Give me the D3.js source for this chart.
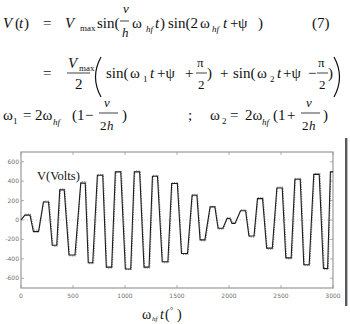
<!DOCTYPE html>
<html>
<head>
<meta charset="utf-8">
<script src="https://cdn.jsdelivr.net/npm/d3@7"></script>
<style>
body { margin: 0; background: #fff; }
svg text { font-family: "Liberation Serif", "Times New Roman", serif; fill: #111; }
.tk { font-family: "DejaVu Sans", sans-serif; font-size: 6px; fill: #707070; }
</style>
</head>
<body>
<svg id="fig" width="350" height="324"></svg>
<script>
// half-cycle centres (deg) and their peak voltage
var solidAngles = [62, 144, 240, 322, 394, 490, 596, 668, 760, 846, 933, 1029, 1115, 1207, 1288, 1385, 1476, 1572, 1668, 1745, 1841, 1918, 1995, 2043, 2135, 2216, 2298, 2389, 2486, 2572, 2659, 2745, 2841, 2928, 2995];
var solidPeaks = [50, -120, 185, -260, 310, -360, 380, -440, 460, -485, 495, -505, 495, -485, 450, -430, 375, -345, 255, -205, 135, -85, 15, -35, 95, -165, 220, -290, 330, -390, 420, -460, 470, -500, 495];
// the dotted (measured) trace
var dotAngles = [68, 150, 246, 330, 400, 498, 600, 676, 766, 852, 940, 1036, 1120, 1214, 1294, 1392, 1482, 1578, 1674, 1752, 1846, 1924, 2000, 2050, 2140, 2222, 2304, 2396, 2492, 2580, 2666, 2752, 2848, 2936, 2998];
var dotPeaks = [60, -105, 195, -270, 320, -370, 395, -450, 470, -495, 500, -510, 505, -495, 460, -440, 385, -355, 265, -215, 140, -95, 25, -30, 105, -175, 230, -300, 340, -400, 430, -470, 480, -510, 500];
var xTicks = [0, 500, 1000, 1500, 2000, 2500, 3000];
var yTicks = [600, 400, 200, 0, -200, -400, -600];

var svg = d3.select('#fig');

var x = d3.scaleLinear().domain([0, 3000]).range([21, 333]);
var y = d3.scaleLinear().domain([-700, 700]).range([288, 152]);

// turn the half-cycle list into a flat-topped trace
function trace(angles, peaks) {
    var pts = [[0, 0]];
    for (var i = 0; i < angles.length; i++) {
        var prev = i > 0 ? angles[i] - angles[i - 1] : angles[i] * 2;
        var next = i < angles.length - 1 ? angles[i + 1] - angles[i] : prev;
        var hw = 0.3 * Math.min(prev, next);
        pts.push([angles[i] - hw, peaks[i]]);
        pts.push([Math.min(3000, angles[i] + hw), peaks[i]]);
    }
    return pts;
}

// frame
svg.append('rect')
    .attr('x', x(0)).attr('y', y(700))
    .attr('width', x(3000) - x(0)).attr('height', y(-700) - y(700))
    .attr('fill', 'none').attr('stroke', '#a8a8a8').attr('stroke-width', 1.4);

var tk = svg.append('g').attr('stroke', '#999').attr('stroke-width', 0.8);
xTicks.forEach(function (t) {
    tk.append('line').attr('x1', x(t)).attr('x2', x(t)).attr('y1', y(-700)).attr('y2', y(-700) - 3);
    tk.append('line').attr('x1', x(t)).attr('x2', x(t)).attr('y1', y(700)).attr('y2', y(700) + 3);
    svg.append('text').attr('class', 'tk').attr('x', x(t)).attr('y', 298)
        .attr('text-anchor', 'middle').text(t);
});
yTicks.forEach(function (t) {
    tk.append('line').attr('x1', x(0)).attr('x2', x(0) + 3).attr('y1', y(t)).attr('y2', y(t));
    tk.append('line').attr('x1', x(3000)).attr('x2', x(3000) - 3).attr('y1', y(t)).attr('y2', y(t));
    svg.append('text').attr('class', 'tk').attr('x', 19).attr('y', y(t) + 2)
        .attr('text-anchor', 'end').text(t);
});

// zero line, dotted
svg.append('line')
    .attr('x1', x(0)).attr('x2', x(3000)).attr('y1', y(0)).attr('y2', y(0))
    .attr('stroke', '#bbb').attr('stroke-width', 0.6).attr('stroke-dasharray', '1,2');

var line = d3.line().x(function (d) { return x(d[0]); }).y(function (d) { return y(d[1]); });

svg.append('path')
    .attr('d', line(trace(dotAngles, dotPeaks)))
    .attr('fill', 'none').attr('stroke', '#808080').attr('stroke-width', 1)
    .attr('stroke-dasharray', '1.2,1.2');

svg.append('path')
    .attr('d', line(trace(solidAngles, solidPeaks)))
    .attr('fill', 'none').attr('stroke', '#1c1c1c').attr('stroke-width', 1.1);

svg.append('text').attr('x', 37).attr('y', 180).attr('font-size', 12.5).text('V(Volts)');

// right edge bar of the page
svg.append('rect').attr('x', 345).attr('y', 138).attr('width', 2.4).attr('height', 168).attr('fill', '#5a5a5a');

// equations
function tok(px, py, s, size, italic) {
    svg.append('text').attr('x', px).attr('y', py).attr('font-size', size)
        .attr('font-style', italic ? 'italic' : null).text(s);
}
function bar(x1, x2, py) {
    svg.append('line').attr('x1', x1).attr('x2', x2).attr('y1', py).attr('y2', py)
        .attr('stroke', '#111').attr('stroke-width', 0.8);
}

// line 1
tok(3, 28, 'V', 15, true); tok(15, 28, '(', 15); tok(19, 28, 't', 15, true); tok(24, 28, ')', 15);
tok(43, 28, '=', 15);
tok(65, 28, 'V', 15, true); tok(80, 31, 'max', 9);
tok(97, 28, 'sin(', 15);
tok(123, 13, 'ν', 13, true); bar(120, 129, 21); tok(122, 37, 'h', 13, true);
tok(132, 28, 'ω', 15); tok(146, 32, 'hf', 9, true); tok(155, 28, 't', 15, true); tok(160, 28, ')', 15);
tok(168, 28, 'sin(2', 15); tok(200, 28, 'ω', 15); tok(212, 32, 'hf', 9, true);
tok(223, 28, 't', 15, true); tok(230, 28, '+', 15); tok(238, 28, 'ψ', 15); tok(258, 28, ')', 15);
tok(312, 28, '(7)', 15);

// line 2
tok(43, 78, '=', 15);
tok(68, 68, 'V', 15, true); tok(79, 71, 'max', 9); bar(67, 90, 73); tok(75, 89, '2', 15);
svg.append('path').attr('d', 'M101,57 Q90,77 101,97').attr('fill', 'none').attr('stroke', '#111').attr('stroke-width', 1.2);
tok(106, 78, 'sin(', 15); tok(130, 78, 'ω', 15); tok(143, 82, '1', 9);
tok(150, 78, 't', 15, true); tok(157, 78, '+ψ', 15); tok(185, 78, '+', 15);
tok(197, 67, 'π', 13); bar(196, 207, 73); tok(198, 89, '2', 13); tok(207, 78, ')', 15);
tok(220, 78, '+', 15); tok(233, 78, 'sin(', 15); tok(257, 78, 'ω', 15); tok(270, 82, '2', 9);
tok(277, 78, 't', 15, true); tok(283, 78, '+ψ', 15); tok(308, 78, '−', 15);
tok(318, 67, 'π', 13); bar(317, 328, 73); tok(319, 89, '2', 13); tok(328, 78, ')', 15);
svg.append('path').attr('d', 'M334,57 Q345,77 334,97').attr('fill', 'none').attr('stroke', '#111').attr('stroke-width', 1.2);

// line 3
tok(3, 120, 'ω', 15); tok(13, 124, '1', 9); tok(23, 120, '=', 15);
tok(35, 120, '2ω', 15); tok(53, 125, 'hf', 9, true);
tok(72, 120, '(1', 15); tok(85, 120, '−', 15);
tok(104, 107, 'ν', 13, true); bar(99, 118, 113); tok(100, 130, '2', 13); tok(107, 130, 'h', 13, true);
tok(122, 120, ')', 15);
tok(188, 120, ';', 15);
tok(210, 120, 'ω', 15); tok(222, 124, '2', 9); tok(230, 120, '=', 15);
tok(245, 120, '2ω', 15); tok(262, 125, 'hf', 9, true);
tok(273, 120, '(1', 15); tok(287, 120, '+', 15);
tok(306, 107, 'ν', 13, true); bar(301, 320, 113); tok(302, 130, '2', 13); tok(309, 130, 'h', 13, true);
tok(323, 120, ')', 15);

// x axis title
tok(142, 319, 'ω', 14); tok(152, 321, 'hf', 7, true); tok(160, 319, 't', 14, true);
tok(165, 319, '(', 14); tok(170, 313, '°', 8); tok(177, 319, ')', 14);
</script>
</body>
</html>
